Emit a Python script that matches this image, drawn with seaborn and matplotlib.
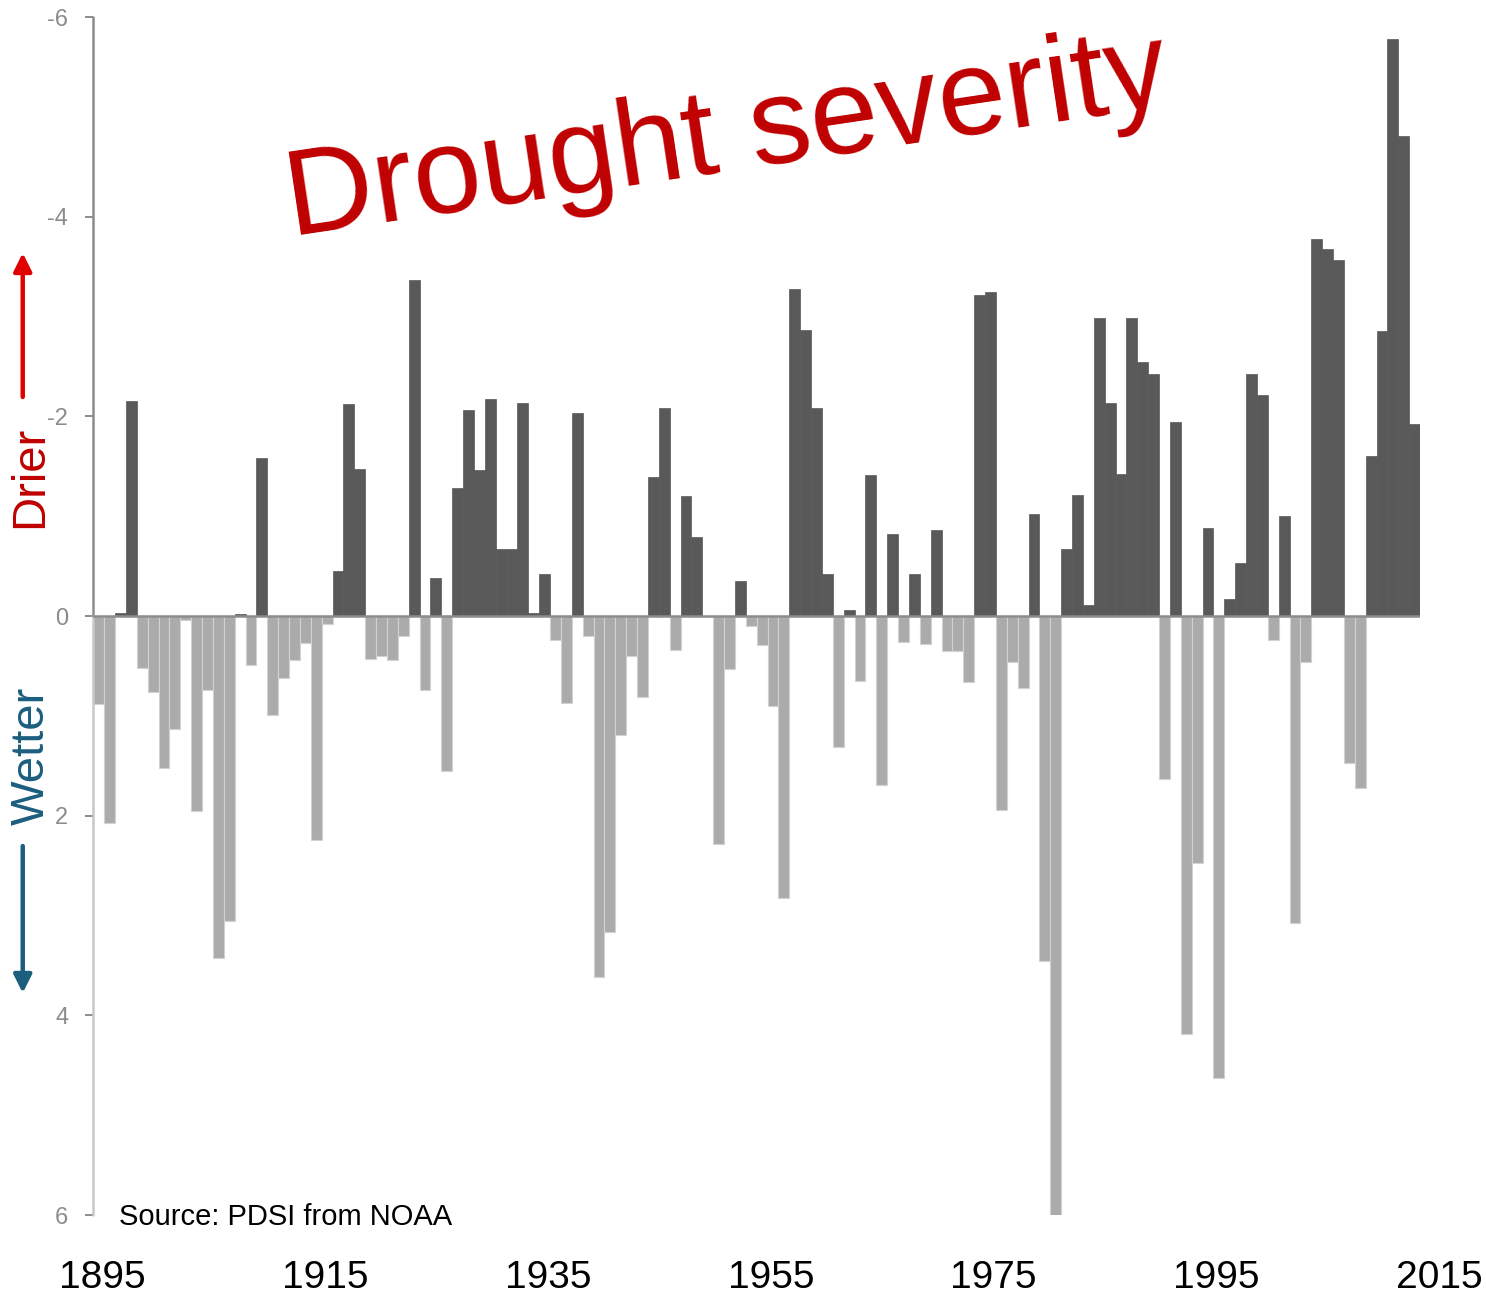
import numpy as np
import pandas as pd
import matplotlib
matplotlib.use('Agg')
import matplotlib.pyplot as plt
import seaborn as sns

# Annual PDSI values (negative = drier, drawn upward)
years = list(range(1895, 2017))
pdsi = [
    0.88, 2.07, -0.03, -2.15, 0.52, 0.76, 1.52, 1.13, 0.04, 1.95,
    0.74, 3.43, 3.06, -0.02, 0.49, -1.58, 0.99, 0.62, 0.44, 0.27,
    2.24, 0.08, -0.45, -2.12, -1.47, 0.43, 0.40, 0.44, 0.20, -3.37,
    0.74, -0.38, 1.55, -1.28, -2.06, -1.46, -2.17, -0.67, -0.67, -2.13,
    -0.03, -0.42, 0.24, 0.87, -2.03, 0.20, 3.62, 3.17, 1.19, 0.40,
    0.81, -1.39, -2.08, 0.34, -1.20, -0.79, 0.0, 2.28, 0.53, -0.35,
    0.10, 0.29, 0.90, 2.82, -3.28, -2.86, -2.08, -0.42, 1.31, -0.06,
    0.65, -1.41, 1.69, -0.82, 0.26, -0.42, 0.28, -0.86, 0.35, 0.35,
    0.66, -3.22, -3.25, 1.94, 0.46, 0.72, -1.02, 3.46, 6.05, -0.67,
    -1.21, -0.11, -2.99, -2.13, -1.42, -2.99, -2.54, -2.42, 1.63, -1.94,
    4.19, 2.47, -0.88, 4.63, -0.17, -0.53, -2.42, -2.21, 0.24, -1.00,
    3.08, 0.46, -3.78, -3.68, -3.57, 1.47, 1.72, -1.60, -2.85, -5.78,
    -4.81, -1.92,
]
xlabels = ['1895', '1915', '1935', '1955', '1975', '1995', '2015']
yticks = [-6, -4, -2, 0, 2, 4, 6]

DARK = '#595959'
LIGHT = '#ababab'
AXIS = '#8c8c8c'
RED = '#c00000'
BLUE = '#1b5e7e'

df = pd.DataFrame({'year': years, 'pdsi': pdsi})
dry = df[df['pdsi'] < 0]
wet = df[df['pdsi'] >= 0]

sns.set_style('white')
plt.rcParams['font.family'] = ['Liberation Sans', 'DejaVu Sans']
plt.rcParams['axes.unicode_minus'] = False

fig = plt.figure(figsize=(14.86, 12.97), dpi=100)
ax = fig.add_axes([0.0628, 0.06322, 0.8928, 0.92367])

# dry years dark, wet years light
sns.barplot(data=dry, x='year', y='pdsi', native_scale=True, width=1,
            color=DARK, saturation=1, edgecolor=DARK, linewidth=0.5,
            errorbar=None, ax=ax)
sns.barplot(data=wet, x='year', y='pdsi', native_scale=True, width=1,
            color=LIGHT, saturation=1, edgecolor='#d2d2d2', linewidth=0.8,
            errorbar=None, ax=ax)

ax.set_xlim(years[0] - 0.5, years[-1] + 0.5)
ax.set_ylim(6, -6)
ax.set_yticks(yticks)
ax.set_yticklabels([str(t) for t in yticks])
ax.set_xticks([])
ax.set_xlabel('')
ax.set_ylabel('')
for s in ax.spines.values():
    s.set_visible(False)

# left axis: darker above zero, lighter below
ax.axvline(years[0] - 0.5, ymin=0.5, ymax=1, color=AXIS, lw=1.8, clip_on=False)
ax.axvline(years[0] - 0.5, ymin=0, ymax=0.5, color='#c8c8c8', lw=1.8, clip_on=False)
ax.axhline(0, color=AXIS, lw=1.8, zorder=5)
ax.tick_params(axis='y', left=True, length=6, width=1.4, color=AXIS,
               labelcolor=AXIS, labelsize=17, pad=12)

# year labels spread slightly wider than the bars, as in the original
xpos = np.linspace(1895.3, 2018.3, len(xlabels))
for lab, xp in zip(xlabels, xpos):
    ax.text(xp, -0.061, lab, transform=ax.get_xaxis_transform(),
            ha='center', va='baseline', fontsize=28, color='black', clip_on=False)

fig.text(0.0801, 0.0617, 'Source: PDSI from NOAA', ha='left', va='center',
         fontsize=21, color='black')

fig.text(0.4925, 0.8689, 'Drought severity', rotation=8.5, rotation_mode='anchor',
         ha='center', va='baseline', fontsize=88, color=RED)

# Drier / Wetter side labels with arrows
fig.text(0.0283, 0.6322, 'Drier', rotation=90, rotation_mode='anchor',
         ha='center', va='baseline', fontsize=34, color=RED)
fig.text(0.0296, 0.4171, 'Wetter', rotation=90, rotation_mode='anchor',
         ha='center', va='baseline', fontsize=34, color=BLUE)
ax.annotate('', xy=(0.0153, 1 - 253 / 1297), xycoords='figure fraction',
            xytext=(0.0153, 1 - 397 / 1297), textcoords='figure fraction',
            arrowprops=dict(arrowstyle='-|>', color='#e00000', lw=3.2,
                            mutation_scale=27, shrinkA=0, shrinkB=0))
ax.annotate('', xy=(0.0153, 1 - 993 / 1297), xycoords='figure fraction',
            xytext=(0.0153, 1 - 846 / 1297), textcoords='figure fraction',
            arrowprops=dict(arrowstyle='-|>', color=BLUE, lw=3.2,
                            mutation_scale=27, shrinkA=0, shrinkB=0))

fig.savefig('out.png', dpi=100)
